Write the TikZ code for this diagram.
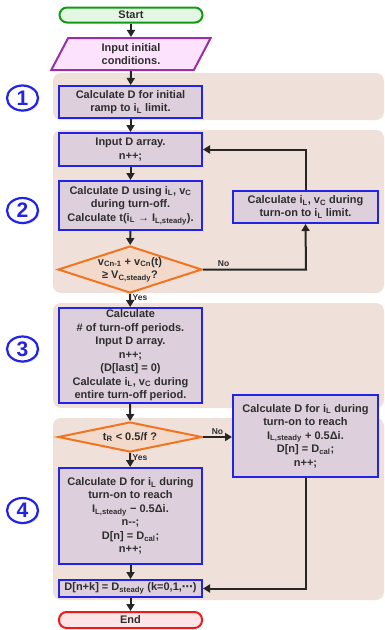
\documentclass[tikz,border=0pt]{standalone}
\usepackage{fontspec}
\setmainfont{Liberation Sans}
\newfontfamily\symfont{DejaVu Sans}
\usetikzlibrary{shapes.geometric,arrows.meta,shadows}
\definecolor{bandtan}{HTML}{EFE1D9}
\definecolor{boxfill}{HTML}{DDD0DC}
\definecolor{boxblue}{HTML}{2323E6}
\definecolor{inkgray}{HTML}{2E2E2E}
\definecolor{startfill}{HTML}{E4F6E4}
\definecolor{startgreen}{HTML}{129A12}
\definecolor{stopfill}{HTML}{FDE4E6}
\definecolor{stopred}{HTML}{F01818}
\definecolor{inputfill}{HTML}{FCE2FC}
\definecolor{inputpurple}{HTML}{9A2EA6}
\definecolor{decfill}{HTML}{F3D9C9}
\definecolor{decorange}{HTML}{F27420}

\begin{document}
\begin{tikzpicture}[
        x=1pt, y=1pt,
        every node/.style={
            font=\bfseries\fontsize{11}{13.5}\selectfont,
            text=inkgray,
            align=center
        },
        >={Triangle[length=7pt,width=8pt]},
        arrow/.style={->, line width=2pt, draw=black!85},
        band/.style={fill=bandtan, rounded corners=8pt},
        proc/.style={rectangle, draw=boxblue, line width=2pt, fill=boxfill,
            minimum width=143pt, inner sep=0pt},
        terminal/.style={rectangle, rounded corners=7.5pt, line width=2pt,
            minimum width=143pt, inner sep=0pt},
        decision/.style={diamond, draw=decorange, fill=decfill, line width=2pt,
            minimum width=144pt, inner sep=0pt},
        num/.style={ellipse, draw=boxblue, line width=2.2pt, fill=white,
            minimum width=31pt, minimum height=25pt, inner sep=0pt,
            text=boxblue, font=\bfseries\fontsize{21}{21}\selectfont,
            drop shadow={shadow xshift=1.5pt, shadow yshift=-1.5pt, fill=gray!50}},
        answer/.style={font=\bfseries\fontsize{8.5}{10}\selectfont, inner sep=1.5pt}
    ]
    \useasboundingbox (0,0) rectangle (385,-630);

    % bands
    \fill[band] (53,-73) rectangle (384,-120);
    \fill[band] (53,-130) rectangle (384,-293);
    \fill[band] (53,-303) rectangle (384,-408);
    \fill[band] (53,-418) rectangle (384,-600);

    % numbers
    \node[num] (n1) at (22.5,-98) {1};
    \node[num] (n2) at (22.5,-210.5) {2};
    \node[num] (n3) at (22.5,-349) {3};
    \node[num] (n4) at (22.5,-510.5) {4};

    % main column
    \node[terminal, draw=startgreen, fill=startfill, minimum height=15pt] (start) at (131,-15) {Start};
    \node[trapezium, trapezium left angle=70, trapezium right angle=110, trapezium stretches=true,
          draw=inputpurple, fill=inputfill, line width=2pt, minimum width=160pt,
          minimum height=32pt, inner sep=0pt] (input) at (131,-54) {Input initial\\conditions.};
    \node[proc, minimum height=32pt] (ramp) at (130.5,-102) {Calculate D for initial\\ramp to i\textsubscript{L} limit.};
    \node[proc, minimum height=33pt] (darray) at (130.5,-149.5) {Input D array.\\n++;};
    \node[proc, minimum height=49pt] (calcoff) at (130.5,-205.5)
        {Calculate D using i\textsubscript{L}, v\textsubscript{C}\\during turn-off.\\Calculate t(i\textsubscript{L} → I\textsubscript{L,steady}).};
    \node[decision, aspect=3, minimum height=47pt, inner ysep=-8pt] (check) at (130,-269.5)
        {v\textsubscript{Cn-1} + v\textsubscript{Cn}(t)\\≥ V\textsubscript{C,steady}?};
    \node[proc, minimum height=95pt] (periods) at (130.5,-355.5)
        {Calculate\\\# of turn-off periods.\\Input D array.\\n++;\\(D[last] = 0)\\Calculate i\textsubscript{L}, v\textsubscript{C} during\\entire turn-off period.};
    \node[decision, aspect=4.8, minimum height=30pt] (tcheck) at (130,-437) {t\textsubscript{R} < 0.5/f ?};
    \node[proc, minimum height=96pt] (reachdown) at (130.5,-516)
        {Calculate D for i\textsubscript{L} during\\turn-on to reach\\I\textsubscript{L,steady} − 0.5Δi.\\n-{}-;\\D[n] = D\textsubscript{cal};\\n++;};
    \node[proc, minimum height=17pt] (steady) at (130.5,-588.5)
        {D[n+k] = D\textsubscript{steady} (k=0,1,{\symfont ⋯})};
    \node[terminal, draw=stopred, fill=stopfill, minimum height=16pt] (stop) at (130.5,-620) {End};

    % right column
    \node[proc, minimum width=145pt, minimum height=32pt] (turnon) at (305.5,-207)
        {Calculate i\textsubscript{L}, v\textsubscript{C} during\\turn-on to i\textsubscript{L} limit.};
    \node[proc, minimum width=145pt, minimum height=82pt] (reachup) at (305.5,-436)
        {Calculate D for i\textsubscript{L} during\\turn-on to reach\\I\textsubscript{L,steady} + 0.5Δi.\\D[n] = D\textsubscript{cal};\\n++;};

    % connectors
    \draw[arrow] (start) -- (input);
    \draw[arrow] (input) -- (ramp);
    \draw[arrow] (ramp) -- (darray);
    \draw[arrow] (darray) -- (calcoff);
    \draw[arrow] (calcoff) -- (check);
    \draw[arrow] (check) -- node[answer, right, pos=0.3] (yes1) {Yes} (periods);
    \draw[arrow] (check.east) -- node[answer, above, pos=0.2] (no1) {No} ++(103,0) -- (turnon.south);
    \draw[arrow] (turnon.north) |- (darray.east);
    \draw[arrow] (periods) -- (tcheck);
    \draw[arrow] (tcheck) -- node[answer, right, pos=0.35] (yes2) {Yes} (reachdown);
    \draw[arrow] (tcheck.east) -- node[answer, above] (no2) {No} (tcheck.east -| reachup.west);
    \draw[arrow] (reachdown) -- (steady);
    \draw[arrow] (reachup.south) |- (steady.east);
    \draw[arrow] (steady) -- (stop);
\end{tikzpicture}
\end{document}
